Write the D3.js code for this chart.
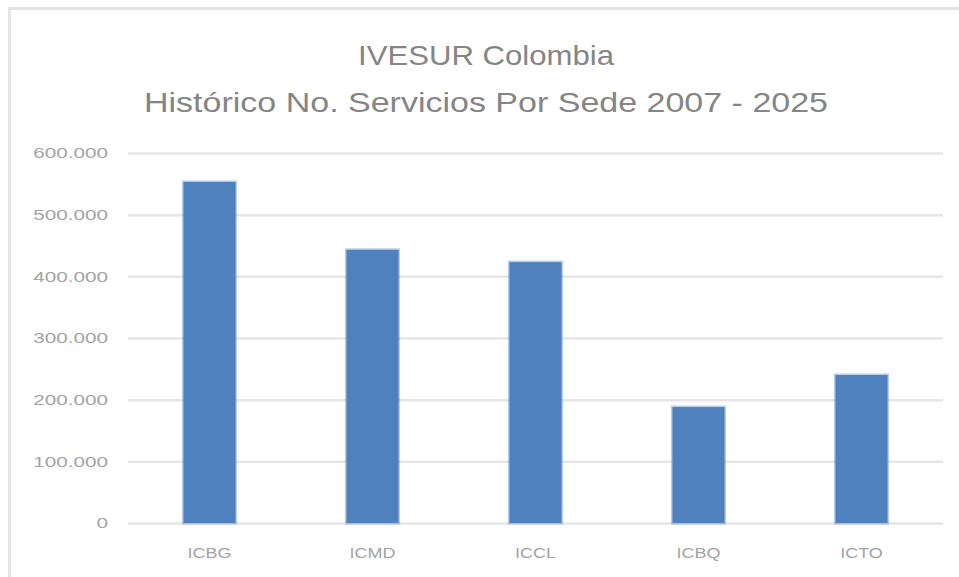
<!DOCTYPE html>
<html>
<head>
<meta charset="utf-8">
<script src="https://cdn.jsdelivr.net/npm/d3@7"></script>
<style>
  html, body { margin: 0; padding: 0; background: #ffffff; }
  svg { display: block; }
</style>
</head>
<body>
<svg id="chart" width="959" height="577"></svg>
<script>
// ---- Data ----
const titleLines = ["IVESUR Colombia", "Histórico No. Servicios Por Sede 2007 - 2025"];
const categories = ["ICBG", "ICMD", "ICCL", "ICBQ", "ICTO"];
const values = [553000, 443000, 423000, 188000, 240000];
const yTicks = [0, 100000, 200000, 300000, 400000, 500000, 600000];

// ---- Layout ----
const W = 959, H = 577;
const margin = { top: 153, right: 16, bottom: 54, left: 128 };
const iw = W - margin.left - margin.right;
const ih = H - margin.top - margin.bottom;

const svg = d3.select("#chart");

// chart frame (only left/top visible in reference)
svg.append("rect")
  .attr("x", 9.5).attr("y", 8.5)
  .attr("width", 980).attr("height", 620)
  .attr("fill", "#ffffff")
  .attr("stroke", "#e4e4e4").attr("stroke-width", 3);

// title
const titleY = [65, 112];
const titleLen = [256, 684];
titleLines.forEach((t, i) => {
  svg.append("text")
    .attr("x", 486).attr("y", titleY[i])
    .attr("text-anchor", "middle")
    .attr("font-family", "'Liberation Sans', Arial, sans-serif")
    .attr("font-size", 28)
    .attr("fill", "#858585")
    .attr("textLength", titleLen[i])
    .attr("lengthAdjust", "spacingAndGlyphs")
    .text(t);
});

const g = svg.append("g").attr("transform", `translate(${margin.left},${margin.top})`);

const x = d3.scaleBand().domain(categories).range([0, iw]).paddingInner(0.68).paddingOuter(0.34);
const y = d3.scaleLinear().domain([0, 600000]).range([ih, 0]);

const locale = d3.formatLocale({ decimal: ",", thousands: ".", grouping: [3], currency: ["", "€"] });
const fmt = locale.format(",d");

// y axis with gridlines
const yAxis = g.append("g")
  .call(d3.axisLeft(y).tickValues(yTicks).tickFormat(fmt).tickSize(-iw).tickPadding(20));
yAxis.select(".domain").remove();
yAxis.selectAll(".tick line").attr("stroke", "#e6e6e6").attr("stroke-width", 2.5);
yAxis.selectAll(".tick text")
  .attr("font-family", "'Liberation Sans', Arial, sans-serif")
  .attr("font-size", 15)
  .attr("fill", "#a3a3a3")
  .each(function () {
    const w = this.getComputedTextLength();
    d3.select(this).attr("textLength", w * 1.38).attr("lengthAdjust", "spacingAndGlyphs");
  });

// bars
g.selectAll("rect.bar")
  .data(categories)
  .join("rect")
  .attr("class", "bar")
  .attr("x", (d) => x(d))
  .attr("width", x.bandwidth())
  .attr("y", (d, i) => y(values[i]))
  .attr("height", (d, i) => y(0) - y(values[i]))
  .attr("fill", "#4f81bd")
  .attr("stroke", "rgba(79,129,189,0.4)")
  .attr("stroke-width", 3);

// x axis
const xAxis = g.append("g")
  .attr("transform", `translate(0,${ih})`)
  .call(d3.axisBottom(x).tickSize(0).tickPadding(24));
xAxis.select(".domain").remove();
xAxis.selectAll(".tick text")
  .attr("font-family", "'Liberation Sans', Arial, sans-serif")
  .attr("font-size", 15)
  .attr("fill", "#a3a3a3")
  .each(function () {
    const w = this.getComputedTextLength();
    d3.select(this).attr("textLength", w * 1.2).attr("lengthAdjust", "spacingAndGlyphs");
  });
</script>
</body>
</html>
